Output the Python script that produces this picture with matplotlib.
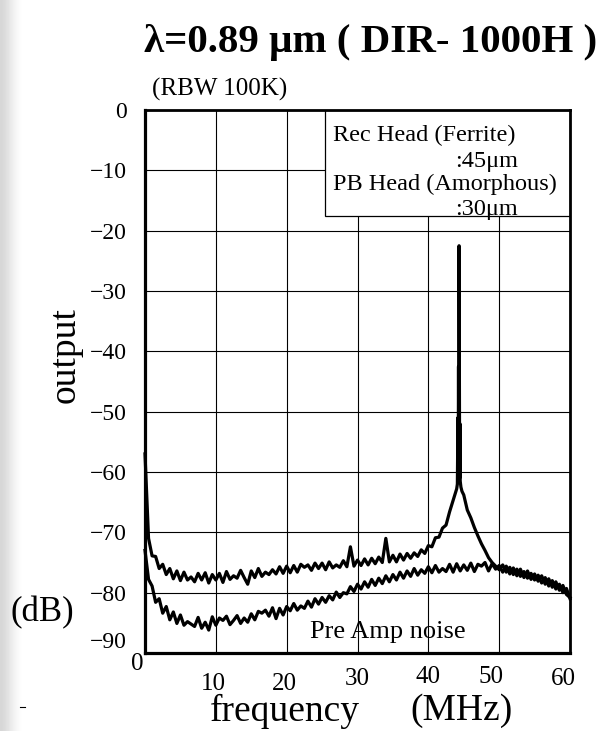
import numpy as np
import matplotlib
matplotlib.use("Agg")
import matplotlib.pyplot as plt
from matplotlib.patches import Rectangle
from matplotlib.transforms import ScaledTranslation

plt.rcParams['font.family'] = ['Liberation Serif', 'DejaVu Serif']

# pre amp noise trace, sampled every 0.5 MHz from 0 to 60
noise_mhz = np.arange(0, 60.01, 0.5)
noise_db = [
    -73.0, -77.8, -78.9, -81.6, -81.0, -83.4, -82.3, -84.5, -83.2, -85.1,
    -83.7, -85.4, -84.8, -85.2, -85.6, -84.1, -85.9, -84.9, -86.2, -84.0,
    -85.4, -84.2, -84.6, -83.9, -85.3, -84.6, -83.8, -85.1, -84.2, -84.9,
    -83.5, -84.5, -83.1, -83.4, -82.9, -83.9, -82.5, -84.3, -82.6, -83.7,
    -82.3, -83.0, -81.8, -82.9, -82.2, -82.6, -81.4, -82.4, -81.0, -81.9,
    -80.8, -81.6, -80.5, -81.2, -79.9, -80.8, -80.0, -80.2, -79.0, -79.8,
    -78.6, -79.4, -78.2, -79.1, -77.8, -78.8, -77.6, -78.5, -77.2, -78.2,
    -77.0, -77.9, -76.6, -77.6, -76.4, -77.3, -76.0, -77.1, -76.2, -76.8,
    -75.7, -76.7, -75.5, -76.6, -76.0, -76.5, -75.3, -76.6, -75.2, -76.4,
    -75.4, -76.3, -75.1, -76.5, -75.3, -75.6, -75.0, -76.4, -75.2, -76.1,
    -75.5, -76.6, -75.6, -76.9, -75.9, -77.2, -76.1, -77.5, -76.4, -77.8,
    -76.9, -78.1, -77.2, -78.6, -77.7, -79.1, -78.2, -79.6, -78.8, -80.3,
    -80.8,
]

# recorded signal trace: 0-44 MHz every 0.5, the carrier peak, then 45-60 every 0.5
peak_mhz = [44.1, 44.18, 44.22, 44.26, 44.3, 44.34, 44.38, 44.42, 44.46, 44.5, 44.6, 44.75]
rec_mhz = np.concatenate([np.arange(0, 44.01, 0.5), peak_mhz, np.arange(45, 60.01, 0.5)])
rec_db = [
    -57.0, -71.0, -73.9, -74.0, -76.0, -75.3, -77.0, -76.0, -77.7, -76.4,
    -78.0, -76.6, -77.9, -77.4, -78.2, -76.8, -77.9, -76.7, -78.4, -77.0,
    -77.9, -76.8, -78.3, -76.5, -77.8, -77.2, -77.6, -76.3, -77.5, -78.6,
    -76.4, -77.5, -76.0, -77.3, -76.6, -77.0, -76.2, -76.9, -75.7, -76.8,
    -75.6, -76.7, -75.5, -76.6, -75.3, -75.8, -75.4, -76.3, -75.1, -76.0,
    -75.1, -76.2, -74.9, -75.9, -75.4, -75.8, -74.7, -75.7, -72.4, -75.6,
    -74.6, -75.5, -74.4, -75.4, -74.3, -75.2, -74.1, -75.0, -71.0, -74.9,
    -73.8, -74.9, -73.6, -74.6, -73.5, -74.3, -73.4, -74.0, -72.9, -73.5,
    -72.2, -72.4, -70.9, -70.8, -69.3, -68.8, -66.6, -64.7, -62.8,
    -62.0, -51.0, -61.0, -42.5, -60.5, -22.5, -44.0, -61.0, -52.0, -61.5, -62.5, -63.2,
    -63.8, -66.3, -67.6, -69.2, -70.6, -71.9, -73.0, -74.2, -75.0, -75.6,
    -76.2, -75.4, -76.6, -75.8, -77.0, -76.1, -77.3, -76.5, -77.6, -76.8,
    -77.9, -77.1, -78.4, -77.5, -78.9, -78.0, -79.4, -78.6, -80.0, -79.3,
    -81.0,
]

x_ticks = [0, 10, 20, 30, 40, 50, 60]
y_ticks = [0, -10, -20, -30, -40, -50, -60, -70, -80, -90]
y_labels = ['0', '−10', '−20', '−30', '−40', '−50', '−60', '−70', '−80', '−90']

fig = plt.figure(figsize=(6.01, 7.31), dpi=100)

# grey scan edge on the left
edge = fig.add_axes([0, 0, 24 / 601, 1])
edge.imshow([[0.84, 0.88, 0.93, 0.97, 1.0]], cmap='gray', vmin=0, vmax=1,
            aspect='auto', interpolation='bicubic')
edge.axis('off')

ax = fig.add_axes([145 / 601, 1 - 653 / 731, 425 / 601, 543 / 731])
ax.set_xlim(0, 60)
ax.set_ylim(-90, 0)
ax.set_xticks(x_ticks)
ax.set_xticklabels([str(v) for v in x_ticks])
ax.set_yticks(y_ticks)
ax.set_yticklabels(y_labels)
ax.grid(True, color='black', lw=0.8)
ax.tick_params(length=0, labelsize=18)
ax.tick_params(axis='y', labelsize=17, pad=13)
ax.tick_params(axis='x', pad=11)
for side in ['left', 'bottom']:
    ax.spines[side].set_linewidth(2.3)
for side in ['top', 'right']:
    ax.spines[side].set_linewidth(2.0)

ax.plot(noise_mhz, noise_db, color='black', lw=2.3, zorder=3, clip_on=False)
ax.plot(rec_mhz, rec_db, color='black', lw=2.3, zorder=3, clip_on=False)


def shift(label, dx, dy):
    label.set_transform(label.get_transform() +
                        ScaledTranslation(dx / 100, dy / 100, fig.dpi_scale_trans))


xl = ax.get_xticklabels()
for lab, (dx, dy) in zip(xl, [(-8, 15), (-2, -5), (-2, -5), (0, 0), (0, 2), (-8, 2), (-7, 0)]):
    shift(lab, dx, dy)
shift(ax.get_yticklabels()[-1], 0, 13)

box = Rectangle((180 / 425, 1 - 106 / 543), 245 / 425, 106 / 543, transform=ax.transAxes,
                facecolor='white', edgecolor='black', lw=0.9, zorder=2.2)
ax.add_patch(box)

fig.text(333 / 601, 1 - 135 / 731, 'Rec Head (Ferrite)', fontsize=17.5, va='center', zorder=4)
fig.text(455 / 601, 1 - 161 / 731, ':45μm', fontsize=17.5, va='center', zorder=4)
fig.text(333 / 601, 1 - 184 / 731, 'PB Head (Amorphous)', fontsize=17.5, va='center', zorder=4)
fig.text(455 / 601, 1 - 209 / 731, ':30μm', fontsize=17.5, va='center', zorder=4)

fig.text(310 / 601, 1 - 632 / 731, 'Pre Amp noise', fontsize=19, va='center')

fig.text(371 / 601, 1 - 52 / 731, 'λ=0.89 μm ( DIR- 1000H )', ha='center', va='baseline',
         fontsize=29.5, fontweight='bold')
fig.text(152 / 601, 1 - 96 / 731, '(RBW 100K)', fontsize=18, va='baseline')
fig.text(65 / 601, 1 - 355 / 731, 'output', fontsize=27, rotation=90, ha='center', va='center')
fig.text(42 / 601, 1 - 613 / 731, '(dB)', fontsize=25, ha='center', va='center')
fig.text(285 / 601, 1 - 711 / 731, 'frequency', fontsize=27, ha='center', va='center')
fig.text(461 / 601, 1 - 711 / 731, '(MHz)', fontsize=27, ha='center', va='center')
fig.add_artist(plt.Line2D([20 / 601, 25 / 601], [1 - 707 / 731, 1 - 707 / 731],
                          color='black', lw=0.8))

fig.savefig('out.png', dpi=100)
